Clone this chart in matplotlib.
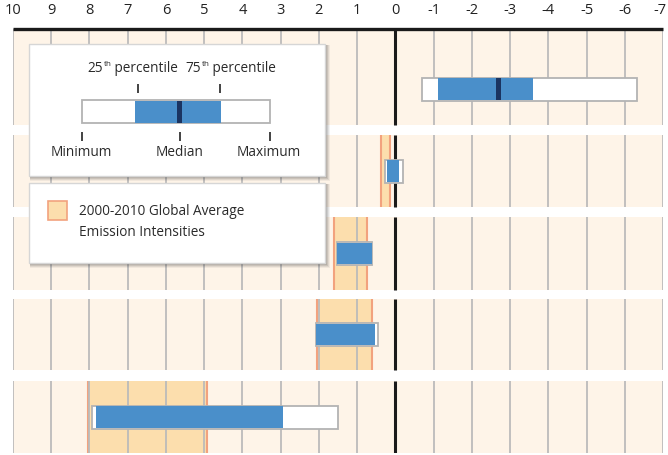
import matplotlib
matplotlib.use("Agg")
import matplotlib.pyplot as plt
import matplotlib.transforms as mtransforms
from matplotlib.patches import Rectangle
import numpy as np

plt.rcParams['font.family'] = ['Open Sans', 'DejaVu Sans']

# ---- data ----
mins    = [-0.70, 0.28, 1.53, 2.07, 7.94]
q1s     = [-1.12, 0.23, 1.53, 2.07, 7.83]
medians = [-2.69, None, None, None, None]
q3s     = [-3.60, -0.09, 0.61, 0.54, 2.95]
maxs    = [-6.31, -0.19, 0.61, 0.46, 1.51]
band_lo = [None, 0.14, 0.74, 0.60, 4.93]
band_hi = [None, 0.37, 1.60, 2.05, 8.03]
xticks = list(range(10, -8, -1))
xlabels = [str(v) for v in xticks]

# ---- styles ----
BG = '#FEF4E8'
BAND = '#FCDEAD'
BAND_EDGE = '#F2A27E'
BLUE = '#4A8FCA'
MED = '#1B3461'
BOXEDGE = '#B3B3B3'
GRID = '#BABABA'

W, H = 668, 455
fig = plt.figure(figsize=(W / 100, H / 100), dpi=100)
fig.patch.set_facecolor('white')

# axes spans pixel x 13..663, y 29..453 (from top)
ax = fig.add_axes([13 / W, (H - 453) / H, 650 / W, 424 / H])
ax.set_xlim(10, -7)
ax.set_ylim(424, 0)
ax.set_facecolor('white')
for s in ax.spines.values():
    s.set_visible(False)
ax.xaxis.tick_top()
ax.set_xticks(xticks)
ax.set_xticklabels(xlabels, fontsize=10.5, color='#222222')
ax.tick_params(axis='x', length=0, pad=8)
ax.set_yticks([])
last = ax.get_xticklabels()[-1]
last.set_transform(last.get_transform() +
                   mtransforms.ScaledTranslation(-3 / 100, 0, fig.dpi_scale_trans))

# row layout (pixel units within axes)
row_top = [0, 106, 188, 270, 352]
row_bot = [96, 178, 261, 341, 424]
box_c = [60, 142, 224.5, 305.5, 388]
box_h = 23

for i in range(5):
    t, b = row_top[i], row_bot[i]
    ax.add_patch(Rectangle((10, t), -17, b - t, facecolor=BG, edgecolor='none', zorder=0))
    if band_lo[i] is not None:
        ax.add_patch(Rectangle((band_lo[i], t), band_hi[i] - band_lo[i], b - t,
                               facecolor=BAND, edgecolor='none', zorder=1))
        ax.vlines([band_lo[i], band_hi[i]], t, b, colors=BAND_EDGE, lw=1.5, zorder=1.5)
    gx = [v for v in xticks if v != 0]
    ax.vlines(gx, t, b, colors=GRID, lw=1.4, alpha=0.9, zorder=2)
    ax.vlines([0], t, b, colors='#1a1a1a', lw=2.2, zorder=2.5)
    # box
    y0 = box_c[i] - box_h / 2
    ax.add_patch(Rectangle((mins[i], y0), maxs[i] - mins[i], box_h,
                           facecolor='white', edgecolor=BOXEDGE, lw=1.3, zorder=3))
    ax.add_patch(Rectangle((q1s[i], y0 + 0.6), q3s[i] - q1s[i], box_h - 1.2,
                           facecolor=BLUE, edgecolor='none', zorder=4))
    if medians[i] is not None:
        ax.add_patch(Rectangle((medians[i] + 0.07, y0 + 0.6), -0.14, box_h - 1.2,
                               facecolor=MED, edgecolor='none', zorder=5))

ax.hlines(0, 10, -7, colors='#1a1a1a', lw=2.4, zorder=6, clip_on=False)

# ---- legend overlay in figure pixel coordinates ----
lax = fig.add_axes([0, 0, 1, 1])
lax.set_xlim(0, W)
lax.set_ylim(H, 0)
lax.axis('off')
lax.patch.set_alpha(0)


def panel(x0, y0, x1, y1):
    for k, a in [(4, 0.05), (3, 0.07), (2, 0.09), (1, 0.10)]:
        lax.add_patch(Rectangle((x0 + 1, y0 + 1), x1 - x0 + k, y1 - y0 + k,
                                facecolor='black', alpha=a, edgecolor='none', zorder=10))
    lax.add_patch(Rectangle((x0, y0), x1 - x0, y1 - y0, facecolor='white',
                            edgecolor='#D6D6D6', lw=1.0, zorder=11))


panel(28.5, 43.5, 325, 175.5)
panel(28.5, 182.5, 325, 262.5)

FS = 9.8
TC = '#2a2a2a'

# key box
bx0, bx1, q1x, q3x, mx = 81.7, 270.3, 135, 221, 179.5
lax.add_patch(Rectangle((bx0, 100), bx1 - bx0, 23.3, facecolor='white',
                        edgecolor=BOXEDGE, lw=1.3, zorder=12))
lax.add_patch(Rectangle((q1x, 100.6), q3x - q1x, 22.1, facecolor=BLUE,
                        edgecolor='none', zorder=13))
lax.add_patch(Rectangle((mx - 2.5, 100.6), 5, 22.1, facecolor=MED,
                        edgecolor='none', zorder=14))
lax.vlines([137.7, 220], 84, 93, colors='#222222', lw=1.2, zorder=13)
lax.vlines([bx0, mx, bx1], 131.7, 140.7, colors='#222222', lw=1.2, zorder=13)
for lbl, xc in [('Minimum', 81.7), ('Median', 180), ('Maximum', 268.7)]:
    lax.text(xc, 152, lbl, ha='center', va='center', fontsize=FS, color=TC, zorder=15)

fig.canvas.draw()
renderer = fig.canvas.get_renderer()


def ordinal_label(xc, yc, num, sup, rest):
    parts = [(num, FS, 0), (sup, FS * 0.6, -4.5), (rest, FS, 0)]
    texts = []
    widths = []
    for s, fs, dy in parts:
        t = lax.text(0, yc + dy, s, ha='left', va='center', fontsize=fs, color=TC, zorder=15)
        bb = t.get_window_extent(renderer=renderer)
        widths.append(bb.width)
        texts.append(t)
    total = sum(widths)
    x = xc - total / 2
    for t, w in zip(texts, widths):
        t.set_x(x)
        x += w


ordinal_label(133, 69, '25', 'th', ' percentile')
ordinal_label(231, 69, '75', 'th', ' percentile')

# band legend
lax.add_patch(Rectangle((48.3, 201), 18.4, 19, facecolor=BAND, edgecolor=BAND_EDGE,
                        lw=1.2, zorder=12))
lax.text(79, 211.5, '2000-2010 Global Average', ha='left', va='center', fontsize=FS,
         color=TC, zorder=15)
lax.text(79, 232.5, 'Emission Intensities', ha='left', va='center', fontsize=FS,
         color=TC, zorder=15)

fig.savefig('out.png', dpi=100)
